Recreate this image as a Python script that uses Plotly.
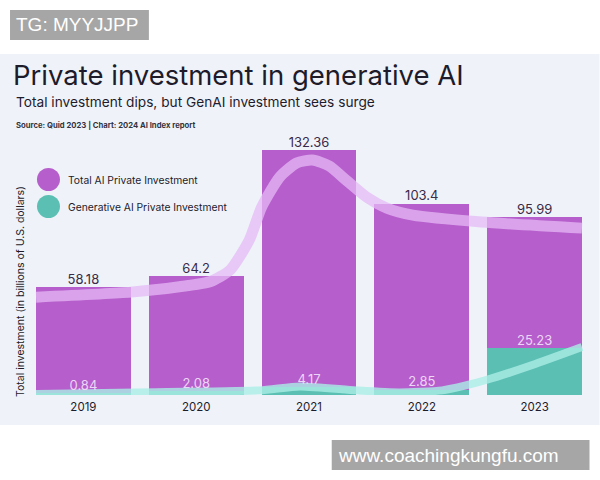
import plotly.graph_objects as go

years = ["2019", "2020", "2021", "2022", "2023"]
total_ai = [58.18, 64.2, 132.36, 103.4, 95.99]
gen_ai = [0.84, 2.08, 4.17, 2.85, 25.23]

# decorative smoothed trend ribbons
trend_total_x = [-0.42, 0.42, 0.85, 1.12, 1.30, 1.47, 1.58, 1.74, 1.89, 2.03, 2.18, 2.33, 2.51, 2.69, 2.92, 3.53, 4.42]
trend_total_y = [52.9, 55.6, 58.5, 61.2, 67.5, 83.7, 101.6, 117.8, 125.4, 127.0, 123.8, 116.1, 107.0, 101.0, 97.2, 93.5, 90.2]
trend_gen_x = [-0.42, 0.47, 1.56, 1.92, 2.42, 2.80, 3.18, 3.39, 3.57, 3.98, 4.42]
trend_gen_y = [0.5, 1.4, 2.5, 4.6, 2.5, 1.4, 2.5, 5.2, 8.1, 16.2, 25.9]

PURPLE = "#b65ecb"
TEAL = "#5bbfb3"
PANEL = "#eff3f9"
DARK = "#1e1b2b"
FONT = "Inter"

xpos = list(range(len(years)))

fig = go.Figure()
fig.add_trace(go.Bar(x=xpos, y=total_ai, width=0.84, marker=dict(color=PURPLE, line=dict(width=0)),
                     name="Total AI Private Investment", showlegend=False))
fig.add_trace(go.Bar(x=xpos, y=gen_ai, width=0.84, marker=dict(color=TEAL, line=dict(width=0)),
                     name="Generative AI Private Investment", showlegend=False))
fig.add_trace(go.Scatter(x=trend_total_x, y=trend_total_y, mode="lines",
                         line=dict(color="rgba(228,186,246,0.75)", width=11, shape="spline", smoothing=0.6),
                         hoverinfo="skip", showlegend=False))
fig.add_trace(go.Scatter(x=trend_gen_x, y=trend_gen_y, mode="lines",
                         line=dict(color="rgba(170,238,230,0.8)", width=8, shape="spline", smoothing=0.6),
                         hoverinfo="skip", showlegend=False))
fig.add_trace(go.Scatter(x=xpos, y=total_ai, mode="text", text=[f"{v:g}" for v in total_ai],
                         textposition="top center", textfont=dict(family=FONT, size=13, color="#3b2a48"),
                         showlegend=False, hoverinfo="skip"))
fig.add_trace(go.Scatter(x=xpos, y=gen_ai, mode="text", text=[f"{v:g}" for v in gen_ai],
                         textposition="top center", textfont=dict(family=FONT, size=13, color="#ecd6f7"),
                         showlegend=False, hoverinfo="skip"))

ph, pw = 259.0, 564.5


def px(x):
    return (x - 27) / pw


def py(y):
    return (395 - y) / ph


shapes = [
    dict(type="rect", xref="paper", yref="paper", x0=px(0), x1=px(600),
         y0=py(425), y1=py(54), fillcolor=PANEL, line=dict(width=0), layer="below"),
    dict(type="rect", xref="paper", yref="paper", x0=px(10), x1=px(149),
         y0=py(40), y1=py(10), fillcolor="#a6a6a6", line=dict(width=0), layer="above"),
    dict(type="rect", xref="paper", yref="paper", x0=px(332), x1=px(590),
         y0=py(470), y1=py(440), fillcolor="#a6a6a6", line=dict(width=0), layer="above"),
    dict(type="circle", xref="paper", yref="paper", x0=px(37), x1=px(60),
         y0=py(191), y1=py(168), fillcolor=PURPLE, line=dict(width=0)),
    dict(type="circle", xref="paper", yref="paper", x0=px(37), x1=px(60),
         y0=py(218), y1=py(195), fillcolor=TEAL, line=dict(width=0)),
]

annotations = [
    dict(text="TG: MYYJJPP", x=px(14), y=py(25), xref="paper", yref="paper", xanchor="left", yanchor="middle",
         showarrow=False, font=dict(family="Liberation Sans", size=19, color="white")),
    dict(text="www.coachingkungfu.com", x=px(336), y=py(455), xref="paper", yref="paper", xanchor="left",
         yanchor="middle", showarrow=False, font=dict(family="Liberation Sans", size=19, color="white")),
    dict(text="Private investment in generative AI", x=px(11), y=py(75), xref="paper", yref="paper",
         xanchor="left", yanchor="middle", showarrow=False, font=dict(family=FONT, size=27.5, color=DARK)),
    dict(text="Total investment dips, but GenAI investment sees surge", x=px(14), y=py(102), xref="paper",
         yref="paper", xanchor="left", yanchor="middle", showarrow=False,
         font=dict(family=FONT, size=13.7, color=DARK)),
    dict(text="<b>Source: Quid 2023 | Chart: 2024 AI Index report</b>", x=px(14), y=py(125), xref="paper",
         yref="paper", xanchor="left", yanchor="middle", showarrow=False,
         font=dict(family=FONT, size=7.7, color="#333340")),
    dict(text="Total AI Private Investment", x=px(66), y=py(180), xref="paper", yref="paper", xanchor="left",
         yanchor="middle", showarrow=False, font=dict(family=FONT, size=10.3, color=DARK)),
    dict(text="Generative AI Private Investment", x=px(66), y=py(207), xref="paper", yref="paper",
         xanchor="left", yanchor="middle", showarrow=False, font=dict(family=FONT, size=10.3, color=DARK)),
    dict(text="Total investment (in billions of U.S. dollars)", x=px(20), y=py(292), xref="paper",
         yref="paper", xanchor="center", yanchor="middle", textangle=-90, showarrow=False,
         font=dict(family=FONT, size=10.5, color=DARK)),
]

fig.update_layout(
    width=600, height=480,
    margin=dict(l=27, r=8.5, t=136, b=85),
    paper_bgcolor="white", plot_bgcolor="rgba(0,0,0,0)",
    barmode="overlay", bargap=0,
    xaxis=dict(range=[-0.5, 4.5], tickmode="array", tickvals=xpos, ticktext=years, showgrid=False,
               zeroline=False, showline=False, ticks="", ticklabelstandoff=3,
               tickfont=dict(family=FONT, size=11.5, color=DARK)),
    yaxis=dict(range=[0, 140], showgrid=False, zeroline=False, showticklabels=False, showline=False),
    shapes=shapes, annotations=annotations,
    showlegend=False,
)

fig.write_html("out.html")
